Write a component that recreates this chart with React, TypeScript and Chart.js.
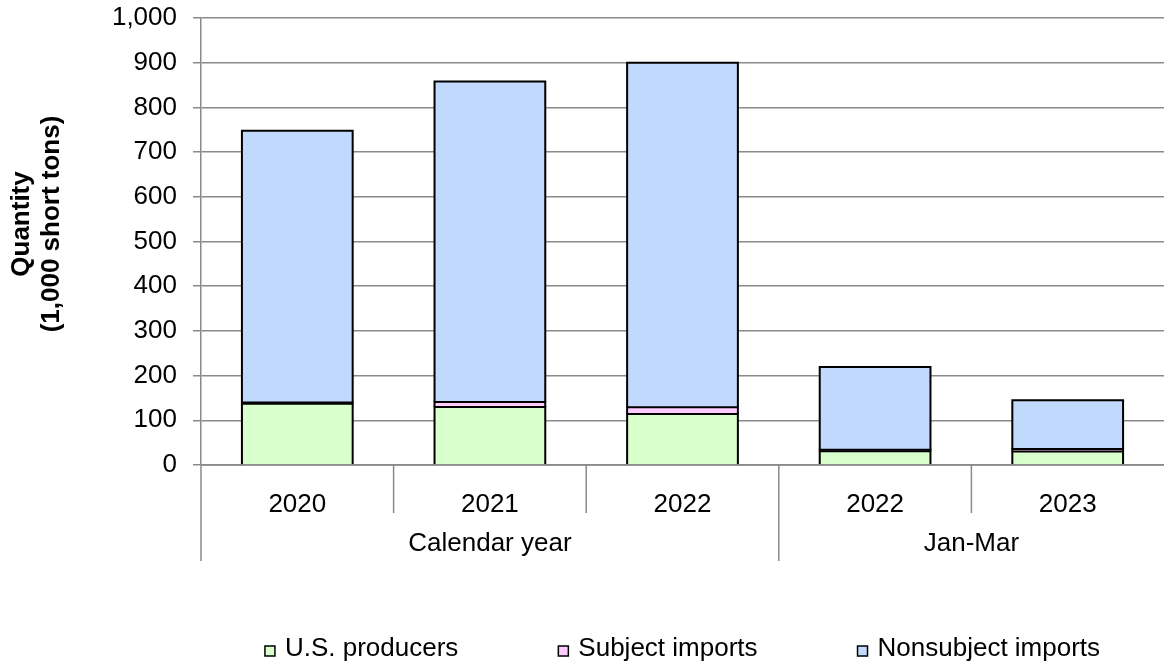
import React, { useEffect, useRef } from 'react';
import { Chart, registerables } from 'chart.js';

Chart.register(...registerables);

// ---- data ----
const categories = ['2020', '2021', '2022', '2022', '2023'];
const groupLabels = ['Calendar year', 'Jan-Mar'];
const groupSizes = [3, 2];
const seriesNames = ['U.S. producers', 'Subject imports', 'Nonsubject imports'];
const usProducers = [137, 130, 114, 31, 30];
const subjectImports = [3, 11, 15, 3, 6];
const nonsubjectImports = [608, 717, 771, 185, 109];
const yAxisTitle = ['Quantity', '(1,000 short tons)'];
const yMin = 0;
const yMax = 1000;
const yStep = 100;

// ---- styles ----
const FONT = "'Liberation Sans', Arial, Helvetica, sans-serif";
const GRID = '#8a8a8a';
const COLORS = ['#d9ffcc', '#ffccff', '#c0d9fc'];

// Excel-like outlines centred on each segment edge (geometry taken from the bar elements)
const barOutlinePlugin = {
  id: 'barOutline',
  afterDatasetsDraw(chart: any) {
    const { ctx } = chart;
    ctx.save();
    ctx.strokeStyle = '#000';
    ctx.lineWidth = 2;
    chart.data.datasets.forEach((_: any, di: number) => {
      const meta = chart.getDatasetMeta(di);
      meta.data.forEach((el: any) => {
        const { x, y, base, width } = el.getProps(['x', 'y', 'base', 'width'], true);
        const l = x - width / 2;
        const r = x + width / 2;
        ctx.beginPath();
        ctx.moveTo(l, base);
        ctx.lineTo(l, y);
        ctx.lineTo(r, y);
        ctx.lineTo(r, base);
        ctx.stroke();
      });
    });
    ctx.restore();
  },
};

const groupAxisPlugin = {
  id: 'groupAxis',
  afterDraw(chart: any) {
    const { ctx, chartArea } = chart;
    const x = chart.scales.x;
    const n = categories.length;
    const step = x.getPixelForValue(1) - x.getPixelForValue(0);
    const edge = (i: number) => x.getPixelForValue(0) + (i - 0.5) * step;
    const bottom = chartArea.bottom;

    const starts = new Set<number>();
    let acc = 0;
    groupSizes.forEach((s) => {
      starts.add(acc);
      acc += s;
    });

    ctx.save();
    ctx.strokeStyle = GRID;
    ctx.lineWidth = 1.5;
    for (let i = 0; i < n; i++) {
      const px = edge(i);
      const len = starts.has(i) ? 96 : 48;
      ctx.beginPath();
      ctx.moveTo(px, bottom);
      ctx.lineTo(px, bottom + len);
      ctx.stroke();
    }
    // axis line drawn over bar bottoms
    ctx.beginPath();
    ctx.moveTo(chartArea.left, bottom);
    ctx.lineTo(chartArea.right, bottom);
    ctx.stroke();

    ctx.fillStyle = '#000';
    ctx.font = `26px ${FONT}`;
    ctx.textAlign = 'center';
    ctx.textBaseline = 'middle';
    acc = 0;
    groupLabels.forEach((label, g) => {
      const a = edge(acc);
      const b = edge(acc + groupSizes[g]);
      ctx.fillText(label, (a + b) / 2, bottom + 79);
      acc += groupSizes[g];
    });

    // legend (centred under the plot area)
    ctx.textAlign = 'left';
    const box = 10;
    const textGap = 10;
    const itemGap = 100;
    const widths = seriesNames.map((s) => ctx.measureText(s).width);
    const total =
      widths.reduce((a, w) => a + w + box + textGap, 0) + itemGap * (seriesNames.length - 1);
    let lx = (chartArea.left + chartArea.right) / 2 - total / 2;
    const ly = 649;
    seriesNames.forEach((name, i) => {
      ctx.fillStyle = COLORS[i];
      ctx.fillRect(lx, ly - box / 2 + 2, box, box);
      ctx.strokeStyle = '#000';
      ctx.lineWidth = 1.5;
      ctx.strokeRect(lx, ly - box / 2 + 2, box, box);
      ctx.fillStyle = '#000';
      ctx.fillText(name, lx + box + textGap, ly);
      lx += box + textGap + widths[i] + itemGap;
    });

    // y-axis title (two lines, rotated)
    ctx.textAlign = 'center';
    ctx.translate(0, 224);
    ctx.rotate(-Math.PI / 2);
    ctx.font = `bold 26px ${FONT}`;
    yAxisTitle.forEach((line, i) => {
      ctx.fillText(line, 0, 22 + i * 30);
    });
    ctx.restore();
  },
};

export default function App() {
  const ref = useRef<HTMLCanvasElement | null>(null);

  useEffect(() => {
    if (!ref.current) return;
    const data = [usProducers, subjectImports, nonsubjectImports];
    const chart = new Chart(ref.current, {
      type: 'bar',
      data: {
        labels: categories,
        datasets: data.map((d, i) => ({
          label: seriesNames[i],
          data: d,
          backgroundColor: COLORS[i],
          borderWidth: 0,
          inflateAmount: 0,
          barPercentage: 0.575,
          categoryPercentage: 1,
        })),
      },
      options: {
        animation: false,
        responsive: false,
        devicePixelRatio: 1,
        layout: { padding: { top: 18, right: 0, bottom: 132, left: 0 } },
        plugins: {
          tooltip: { enabled: false },
          legend: { display: false },
        },
        scales: {
          x: {
            stacked: true,
            offset: true,
            grid: { display: false },
            border: { display: false },
            ticks: {
              color: '#000',
              font: { family: FONT, size: 26 },
              padding: 16,
              maxRotation: 0,
              autoSkip: false,
            },
            afterFit: (s: any) => {
              s.height = 71;
            },
          },
          y: {
            stacked: true,
            min: yMin,
            max: yMax,
            ticks: {
              stepSize: yStep,
              autoSkip: false,
              color: '#000',
              font: { family: FONT, size: 26 },
              padding: 16,
              callback: (v: any) => Number(v).toLocaleString('en-US'),
            },
            grid: { color: GRID, lineWidth: 1.5, tickLength: 8, drawTicks: true },
            border: { display: true, color: GRID, width: 1.5 },
            afterFit: (s: any) => {
              s.width = 201;
              s.paddingTop = 0;
              s.paddingBottom = 0;
            },
          },
        },
      },
      plugins: [barOutlinePlugin, groupAxisPlugin],
    } as any);
    return () => chart.destroy();
  }, []);

  return (
    <div style={{ position: 'fixed', left: 0, top: 0, width: 1164, height: 668, background: '#fff' }}>
      <canvas ref={ref} width={1164} height={668} style={{ width: 1164, height: 668, display: 'block' }} />
    </div>
  );
}
